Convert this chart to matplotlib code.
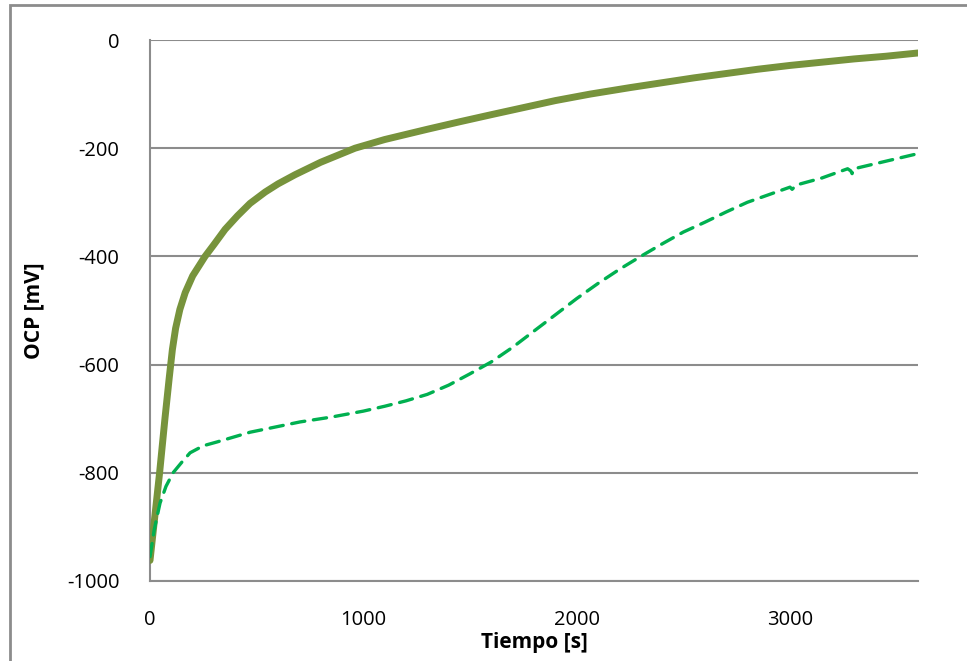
import numpy as np
import matplotlib.pyplot as plt
from matplotlib.patches import Rectangle

# solid curve (olive)
t1 = [0, 20, 45, 70, 90, 105, 120, 140, 165, 200, 258, 300, 352, 410, 469, 540, 600, 680, 800, 961,
      1100, 1300, 1453, 1600, 1750, 1900, 2063, 2250, 2400, 2550, 2700, 2850, 3000, 3150, 3300, 3450, 3600]
ocp1 = [-962, -890, -800, -700, -625, -572, -533, -498, -467, -436, -400, -378, -350, -325, -302, -281, -266, -249, -226, -200,
        -184, -165, -151, -138, -125, -112, -100, -88, -79, -70, -62, -54, -47, -41, -35, -30, -24]

# dashed curve (green)
t2 = [0, 20, 47, 75, 108, 150, 188, 250, 314, 400, 469, 580, 703, 850, 1000, 1100, 1200, 1300, 1400, 1500, 1600, 1700,
      1800, 1900, 2000, 2100, 2200, 2300, 2400, 2500, 2600, 2700, 2800, 2900, 3000, 3010, 3030,
      3150, 3270, 3285, 3291, 3300, 3450, 3600]
ocp2 = [-955, -905, -856, -825, -800, -780, -763, -750, -743, -733, -725, -716, -706, -697, -686, -677, -667, -655, -638, -617, -595, -568,
        -538, -508, -478, -450, -424, -400, -377, -355, -337, -318, -300, -286, -272, -276, -268,
        -255, -238, -242, -247, -238, -224, -210]

xticks = [0, 1000, 2000, 3000]
yticks = [0, -200, -400, -600, -800, -1000]

plt.rcParams['font.family'] = ['Open Sans', 'DejaVu Sans']
plt.rcParams['axes.unicode_minus'] = False

fig = plt.figure(figsize=(9.67, 6.61), dpi=100)
ax = fig.add_axes([150 / 967, 1 - 581 / 661, 768 / 967, 541 / 661])

# outer chart border
fig.patches.append(Rectangle((10 / 967, -0.1), 1.2, (661 - 5) / 661 + 0.1, transform=fig.transFigure,
                             fill=False, edgecolor='#8c8c8c', linewidth=2))

ax.plot(t1, ocp1, color='#77933C', linewidth=5, solid_capstyle='round', solid_joinstyle='round', zorder=3)
ax.plot(t2, ocp2, color='#00B050', linewidth=2.4, linestyle=(0, (4, 2.6)), dash_capstyle='round', zorder=3)

ax.set_xlim(0, 3600)
ax.set_ylim(-1000, 0)
ax.set_xticks(xticks)
ax.set_yticks(yticks)
ax.tick_params(length=0, labelsize=14.5)
ax.tick_params(axis='x', pad=21)
ax.tick_params(axis='y', pad=22)
ax.grid(axis='y', color='#8c8c8c', linewidth=1.5)
ax.set_axisbelow(True)
for s in ['top', 'right']:
    ax.spines[s].set_visible(False)
for s in ['left', 'bottom']:
    ax.spines[s].set_color('#8c8c8c')
    ax.spines[s].set_linewidth(1.5)

ax.set_xlabel('Tiempo [s]', fontsize=15, fontweight='bold', labelpad=1)
ax.set_ylabel('OCP [mV]', fontsize=15, fontweight='bold', labelpad=16)

fig.savefig('out.png', dpi=100)
